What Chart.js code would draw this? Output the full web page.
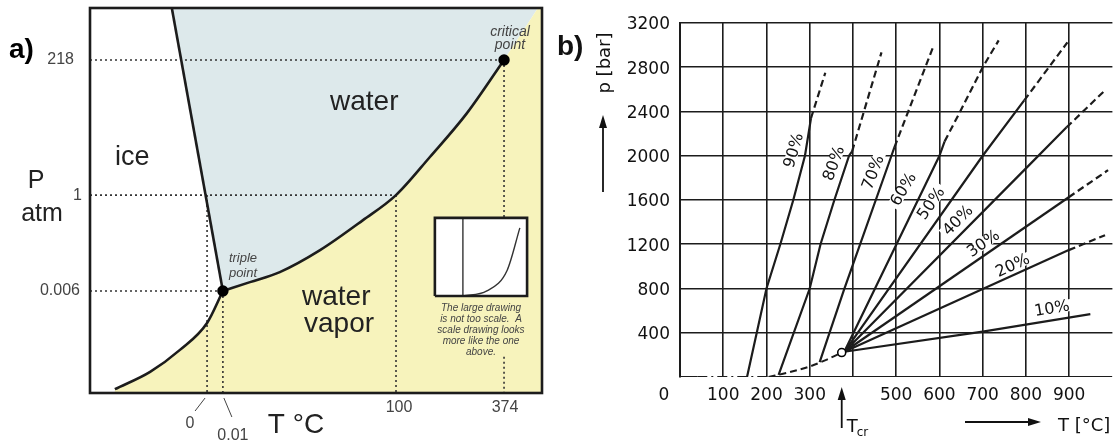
<!doctype html>
<html lang="en">
<head>
  <meta charset="utf-8">
  <title>Phase diagram of water</title>
  <script src="https://cdn.jsdelivr.net/npm/chart.js"></script>
  <style>
    html, body { margin: 0; padding: 0; background: #fff; }
    #wrap { position: relative; width: 1118px; height: 441px; }
    #chartA { position: absolute; left: 0; top: 0; }
    #chartB { position: absolute; left: 555px; top: 0; }
  </style>
</head>
<body>
<div id="wrap">
  <canvas id="chartA" width="555" height="441"></canvas>
  <canvas id="chartB" width="563" height="441"></canvas>
</div>

<script>
  // ---- panel a: schematic diagram, axis units 0..100 (not to scale) ----
  const aPressureLabels = ['218', '1', '0.006'];
  const aPressureLevels = [86.5, 51.4, 26.5];
  const aTempLabels = ['0', '0.01', '100', '374'];
  const aTempLevels = [25.9, 29.4, 67.7, 91.6];

  const meltCurve = [[18.1, 100], [29.4, 26.5]];
  const sublimationCurve = [[5.5, 1.0], [13.3, 5.5], [19.9, 11.2], [25.9, 18.2], [29.4, 26.5]];
  const vaporCurve = [[29.4, 26.5], [35.4, 28.8], [42.0, 31.4], [50.9, 37.1], [60.4, 44.9],
                      [67.7, 51.4], [75.2, 61.3], [83.4, 72.7], [91.6, 86.5]];
  const supercritEdge = [[91.6, 86.5], [99.1, 100]];
  const triplePoint = [29.4, 26.5];
  const criticalPoint = [91.6, 86.5];

  const insetLeft = 76.3, insetRight = 96.7, insetBottom = 25.2, insetTop = 45.5;
  const insetAxisX = 82.5;
  const insetCurve = [[82.5, 25.2], [87.8, 26.5], [92.3, 31.9], [95.1, 42.9]];
  const insetCaption = ['The large drawing', 'is not too scale.  A', 'scale drawing looks', 'more like the one', 'above.'];

  // ---- panel b: p in bar vs T in degC ----
  const bTempTicks = [100, 200, 300, 500, 600, 700, 800, 900];
  const bPressureTicks = [400, 800, 1200, 1600, 2000, 2400, 2800, 3200];
  const percentLabels = ['90%', '80%', '70%', '60%', '50%', '40%', '30%', '20%', '10%'];

  const line90 = [[155, 0], [200, 800], [232, 1200], [262, 1600], [289, 2000], [303, 2340]];
  const line90Ext = [[303, 2340], [336, 2750]];
  const line80 = [[228, 20], [300, 800], [325, 1200], [357, 1600], [391, 2000], [398, 2040]];
  const line80Ext = [[398, 2040], [466, 2935]];
  const line70 = [[323, 135], [379, 786], [489, 2000], [496, 2077]];
  const line70Ext = [[496, 2077], [587, 3000]];
  const line60 = [[380, 228], [600, 2000], [612, 2130]];
  const line60Ext = [[612, 2130], [648, 2400], [700, 2800], [737, 3043]];
  const line50 = [[380, 228], [700, 2000], [796, 2500]];
  const line50Ext = [[796, 2500], [896, 3025]];
  const line40 = [[380, 228], [796, 1870], [894, 2257]];
  const line40Ext = [[894, 2257], [983, 2592]];
  const line30 = [[380, 228], [899, 1625]];
  const line30Ext = [[899, 1625], [990, 1870]];
  const line20 = [[380, 228], [899, 1147]];
  const line20Ext = [[899, 1147], [983, 1282]];
  const line10 = [[380, 228], [700, 410], [949, 569]];
  const saturation = [[205, 0], [250, 40], [300, 95], [341, 160], [374, 221]];
  const axisDashDot = [[40, 0], [205, 0]];
  const criticalB = [374, 221];

  function pts(arr) { return arr.map(p => ({x: p[0], y: p[1]})); }

  const YELLOW = 'rgb(247,243,188)';
  const BLUE = 'rgb(221,233,235)';
  const INK = '#1c1c1c';

  function lineSet(data, opts) {
    return Object.assign({
      data: pts(data), borderColor: INK, borderWidth: 2.4, pointRadius: 0,
      fill: false, tension: 0, order: 4
    }, opts || {});
  }

  // ---------- chart a ----------
  const yellowShape = [[5.5, 0]].concat(sublimationCurve, vaporCurve.slice(1), [[99.1, 100], [100, 100], [100, 0]]);
  const blueShape = meltCurve.concat(vaporCurve.slice(1), [[99.1, 100]]);
  const insetShape = [[insetLeft, insetBottom], [insetLeft, insetTop], [insetRight, insetTop], [insetRight, insetBottom]];
  const insetFrame = insetShape.concat([[insetLeft, insetBottom]]);

  const guideStyle = {borderColor: '#333', borderWidth: 1.6, borderDash: [2, 3], order: 8};
  const guides = [
    [[0, aPressureLevels[0]], criticalPoint],
    [[0, aPressureLevels[1]], [aTempLevels[2], aPressureLevels[1]]],
    [[0, aPressureLevels[2]], triplePoint],
    [[aTempLevels[0], aPressureLevels[1]], [aTempLevels[0], 0]],
    [triplePoint, [aTempLevels[1], 0]],
    [[aTempLevels[2], aPressureLevels[1]], [aTempLevels[2], 0]],
    [criticalPoint, [aTempLevels[3], insetTop]],
    [[aTempLevels[3], 9.4], [aTempLevels[3], 0]]
  ];

  const aDatasets = [
    lineSet(yellowShape, {borderWidth: 0, backgroundColor: YELLOW, fill: 'shape', order: 10}),
    lineSet(blueShape, {borderWidth: 0, backgroundColor: BLUE, fill: 'shape', order: 10}),
    lineSet(insetShape, {borderWidth: 0, backgroundColor: '#fff', fill: 'shape', order: 6}),
    lineSet(insetFrame, {borderWidth: 2.6, order: 5}),
    lineSet([[insetAxisX, insetBottom], [insetAxisX, insetTop]], {borderWidth: 1.4, borderColor: '#333', order: 5}),
    lineSet(insetCurve, {borderWidth: 1.4, borderColor: '#333', tension: 0.4, cubicInterpolationMode: 'monotone', order: 5}),
    lineSet(meltCurve, {borderWidth: 2.6}),
    lineSet(sublimationCurve, {borderWidth: 2.6, cubicInterpolationMode: 'monotone'}),
    lineSet(vaporCurve, {borderWidth: 2.6, cubicInterpolationMode: 'monotone'}),
    lineSet([triplePoint, criticalPoint], {showLine: false, pointRadius: 4.5, pointBackgroundColor: '#000', pointBorderColor: '#000', order: 1})
  ].concat(guides.map(g => lineSet(g, guideStyle)));

  const aDecor = {
    id: 'aDecor',
    afterDraw(chart) {
      const {ctx, chartArea: ca, scales: {x, y}} = chart;
      ctx.save();
      ctx.strokeStyle = INK;
      ctx.lineWidth = 2.6;
      ctx.strokeRect(ca.left, ca.top, ca.right - ca.left, ca.bottom - ca.top);

      ctx.fillStyle = '#000';
      ctx.font = 'bold 28px "Liberation Sans"';
      ctx.textBaseline = 'alphabetic';
      ctx.fillText('a)', 9, 58);

      ctx.fillStyle = '#444';
      ctx.font = '16px "Liberation Sans"';
      ctx.textAlign = 'right';
      ctx.textBaseline = 'middle';
      const gap = [16, 8, 10];
      aPressureLabels.forEach((t, i) => ctx.fillText(t, ca.left - gap[i], y.getPixelForValue(aPressureLevels[i])));

      ctx.textAlign = 'center';
      ctx.textBaseline = 'alphabetic';
      const dx = [-17, 10, 3, 1], base = [428, 440, 412, 412];
      aTempLabels.forEach((t, i) => ctx.fillText(t, x.getPixelForValue(aTempLevels[i]) + dx[i], base[i]));
      // leaders for 0 and 0.01
      ctx.strokeStyle = '#444';
      ctx.lineWidth = 1;
      const x0 = x.getPixelForValue(aTempLevels[0]), x1 = x.getPixelForValue(aTempLevels[1]);
      ctx.beginPath();
      ctx.moveTo(x0 - 2, ca.bottom + 5); ctx.lineTo(x0 - 12, ca.bottom + 18);
      ctx.moveTo(x1 + 1, ca.bottom + 5); ctx.lineTo(x1 + 9, ca.bottom + 24);
      ctx.stroke();

      ctx.fillStyle = '#222';
      ctx.font = '25px "Liberation Sans"';
      ctx.fillText('P', 36, 188);
      ctx.fillText('atm', 42, 221);
      ctx.font = '28px "Liberation Sans"';
      ctx.fillText('T \u00b0C', 296, 433);

      ctx.textAlign = 'left';
      ctx.font = '27px "Liberation Sans"';
      ctx.fillText('ice', 115, 165);
      ctx.font = '28px "Liberation Sans"';
      ctx.fillText('water', 330, 110);
      ctx.fillText('water', 302, 305);
      ctx.fillText('vapor', 304, 332);

      ctx.textAlign = 'center';
      ctx.fillStyle = '#444';
      ctx.font = 'italic 13px "Liberation Sans"';
      ctx.fillText('triple', 243, 262);
      ctx.fillText('point', 243, 277);
      ctx.font = 'italic 14px "Liberation Sans"';
      ctx.fillText('critical', 510, 36);
      ctx.fillText('point', 510, 49);

      ctx.font = 'italic 10px "Liberation Sans"';
      const cx = (x.getPixelForValue(insetLeft) + x.getPixelForValue(insetRight)) / 2;
      const by = y.getPixelForValue(insetBottom);
      insetCaption.forEach((t, i) => ctx.fillText(t, cx, by + 15 + i * 11));
      ctx.restore();
    }
  };

  new Chart(document.getElementById('chartA'), {
    type: 'line',
    data: {datasets: aDatasets},
    options: {
      responsive: false,
      animation: false,
      events: [],
      layout: {padding: {left: 90, right: 13, top: 8, bottom: 48}},
      scales: {
        x: {type: 'linear', min: 0, max: 100, display: false},
        y: {type: 'linear', min: 0, max: 100, display: false}
      },
      plugins: {legend: {display: false}, tooltip: {enabled: false}}
    },
    plugins: [aDecor]
  });

  // ---------- chart b ----------
  const solidB = {borderWidth: 2.2};
  const dashB = {borderWidth: 2.2, borderDash: [7, 4]};
  const bDatasets = [
    lineSet([[0, 0], [40, 0]], {borderWidth: 2}),
    lineSet([[205, 0], [1000, 0]], {borderWidth: 2}),
    lineSet(axisDashDot, {borderWidth: 2, borderDash: [10, 4, 2, 4]}),
    lineSet(saturation, {borderWidth: 2, borderDash: [7, 4], cubicInterpolationMode: 'monotone'}),
    lineSet(line90, solidB), lineSet(line90Ext, dashB),
    lineSet(line80, solidB), lineSet(line80Ext, dashB),
    lineSet(line70, solidB), lineSet(line70Ext, dashB),
    lineSet(line60, solidB), lineSet(line60Ext, dashB),
    lineSet(line50, solidB), lineSet(line50Ext, dashB),
    lineSet(line40, solidB), lineSet(line40Ext, dashB),
    lineSet(line30, solidB), lineSet(line30Ext, dashB),
    lineSet(line20, solidB), lineSet(line20Ext, dashB),
    lineSet(line10, solidB),
    lineSet([criticalB], {showLine: false, pointRadius: 4, pointBackgroundColor: '#fff', pointBorderColor: '#000', pointBorderWidth: 1.6, order: 1})
  ];

  // label anchor [T, p, angle]
  const labelSpots = [[262, 2050, -74], [355, 1932, -70], [446, 1851, -69], [516, 1698, -59], [580, 1571, -55],
                      [642, 1418, -45], [701, 1210, -35], [769, 1011, -25], [860, 623, -9.5]];

  function arrow(ctx, x1, y1, x2, y2) {
    const a = Math.atan2(y2 - y1, x2 - x1), c = Math.cos(a), s = Math.sin(a);
    ctx.beginPath();
    ctx.moveTo(x1, y1);
    ctx.lineTo(x2 - 8 * c, y2 - 8 * s);
    ctx.stroke();
    ctx.beginPath();
    ctx.moveTo(x2, y2);
    ctx.lineTo(x2 - 13 * c + 4 * s, y2 - 13 * s - 4 * c);
    ctx.lineTo(x2 - 13 * c - 4 * s, y2 - 13 * s + 4 * c);
    ctx.closePath();
    ctx.fill();
  }

  const bDecor = {
    id: 'bDecor',
    beforeDatasetsDraw(chart) {
      const {ctx, scales: {x, y}} = chart;
      ctx.save();
      ctx.font = '16px "DejaVu Sans"';
      ctx.fillStyle = '#fff';
      labelSpots.forEach((s, i) => {
        ctx.save();
        ctx.translate(x.getPixelForValue(s[0]), y.getPixelForValue(s[1]));
        ctx.rotate(s[2] * Math.PI / 180);
        const w = ctx.measureText(percentLabels[i]).width;
        ctx.fillRect(-w / 2 - 3, -6, w + 6, 12);
        ctx.restore();
      });
      ctx.restore();
    },
    afterDraw(chart) {
      const {ctx, chartArea: ca, scales: {x, y}} = chart;
      ctx.save();
      ctx.fillStyle = '#111';
      ctx.strokeStyle = '#111';
      ctx.font = 'bold 28px "Liberation Sans"';
      ctx.fillText('b)', 2, 55);

      ctx.font = '17px "DejaVu Sans"';
      ctx.textAlign = 'right';
      ctx.textBaseline = 'middle';
      bPressureTicks.forEach(v => ctx.fillText(String(v), ca.left - 10, y.getPixelForValue(v) + 2));
      ctx.textAlign = 'center';
      bTempTicks.forEach(v => ctx.fillText(String(v), x.getPixelForValue(v), 396));
      ctx.fillText('0', ca.left - 16, 396);

      ctx.font = '16px "DejaVu Sans"';
      labelSpots.forEach((s, i) => {
        ctx.save();
        ctx.translate(x.getPixelForValue(s[0]), y.getPixelForValue(s[1]));
        ctx.rotate(s[2] * Math.PI / 180);
        ctx.fillText(percentLabels[i], 0, 1);
        ctx.restore();
      });

      // axis titles and arrows
      ctx.font = '18px "DejaVu Sans"';
      ctx.save();
      ctx.translate(50, 63);
      ctx.rotate(-Math.PI / 2);
      ctx.fillText('p [bar]', 0, 0);
      ctx.restore();
      ctx.lineWidth = 1.8;
      arrow(ctx, 48, 192, 48, 115);

      ctx.textAlign = 'left';
      ctx.textBaseline = 'alphabetic';
      ctx.fillText('T [\u00b0C]', 503, 431);
      arrow(ctx, 410, 422, 486, 422);

      const xcr = x.getPixelForValue(criticalB[0]);
      arrow(ctx, xcr, 428, xcr, 387);
      ctx.fillText('T', xcr + 5, 432);
      ctx.font = '12px "DejaVu Sans"';
      ctx.fillText('cr', xcr + 15, 436);
      ctx.restore();
    }
  };

  new Chart(document.getElementById('chartB'), {
    type: 'line',
    data: {datasets: bDatasets},
    options: {
      responsive: false,
      animation: false,
      events: [],
      layout: {padding: {left: 125, right: 0, top: 23, bottom: 64}},
      scales: {
        x: {
          type: 'linear', min: 0, max: 1000,
          ticks: {display: false, stepSize: 100},
          grid: {
            drawTicks: false, lineWidth: 1.6,
            color: c => (c.tick.value === 0 || c.tick.value === 1000) ? 'rgba(0,0,0,0)' : INK
          },
          border: {display: false}
        },
        y: {
          type: 'linear', min: 0, max: 3200,
          ticks: {display: false, stepSize: 400},
          grid: {
            drawTicks: false, lineWidth: 1.6,
            color: c => c.tick.value === 0 ? 'rgba(0,0,0,0)' : INK
          },
          border: {display: true, color: INK, width: 2}
        }
      },
      plugins: {legend: {display: false}, tooltip: {enabled: false}}
    },
    plugins: [bDecor]
  });
</script>
</body>
</html>
